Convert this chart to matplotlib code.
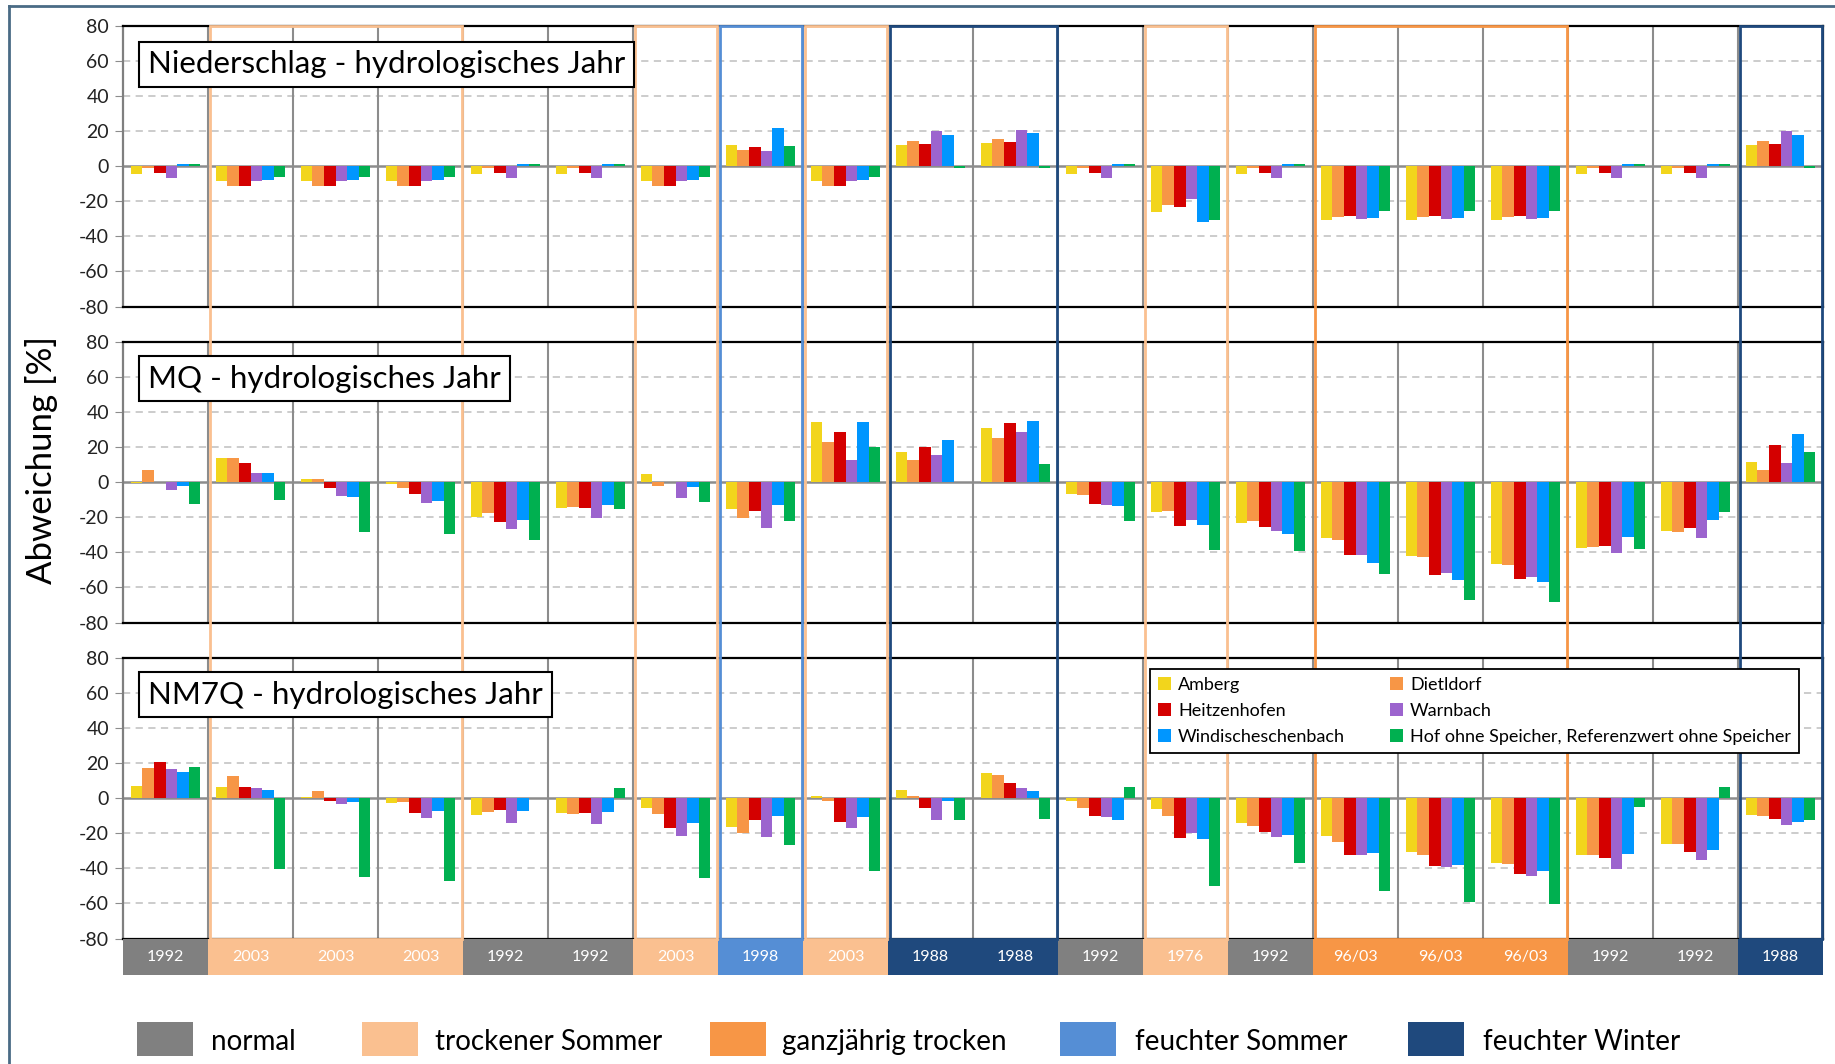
import numpy as np
import matplotlib
matplotlib.use("Agg")
import matplotlib.pyplot as plt
from matplotlib.patches import Rectangle
from matplotlib.lines import Line2D

plt.rcParams['font.family'] = ['Lato', 'DejaVu Sans']
plt.rcParams['axes.unicode_minus'] = False

# --- data ------------------------------------------------------------------
jahre = ['1992', '2003', '2003', '2003', '1992', '1992', '2003', '1998', '2003', '1988',
         '1988', '1992', '1976', '1992', '96/03', '96/03', '96/03', '1992', '1992', '1988']
kategorie = ['normal', 'trockener Sommer', 'trockener Sommer', 'trockener Sommer', 'normal',
             'normal', 'trockener Sommer', 'feuchter Sommer', 'trockener Sommer', 'feuchter Winter',
             'feuchter Winter', 'normal', 'trockener Sommer', 'normal', 'ganzjährig trocken',
             'ganzjährig trocken', 'ganzjährig trocken', 'normal', 'normal', 'feuchter Winter']

stationen = ['Amberg', 'Dietldorf', 'Heitzenhofen', 'Warnbach', 'Windischeschenbach',
             'Hof ohne Speicher, Referenzwert ohne Speicher']

# Niederschlag
amberg_n = [-4.5, -8.5, -8.5, -8.5, -4.5, -4.5, -8.5, 12, -8.5, 12.3, 13.4, -4.5, -26.3, -4.5, -30.5, -30.5, -30.5, -4.5, -4.5, 12.3]
dietl_n = [-1, -11.5, -11.5, -11.5, -1, -1, -11.5, 9, -11.5, 14.6, 15.5, -1, -22.3, -1, -29, -29, -29, -1, -1, 14.6]
heitz_n = [-4, -11.5, -11.5, -11.5, -4, -4, -11.5, 11, -11.5, 12.7, 13.6, -4, -23, -4, -28.4, -28.4, -28.4, -4, -4, 12.7]
warn_n = [-6.5, -8.5, -8.5, -8.5, -6.5, -6.5, -8.5, 8.5, -8.5, 20, 20.6, -6.5, -18.6, -6.5, -30.1, -30.1, -30.1, -6.5, -6.5, 20]
windi_n = [1.5, -8, -8, -8, 1.5, 1.5, -8, 21.5, -8, 18, 18.7, 1.5, -31.6, 1.5, -29.7, -29.7, -29.7, 1.5, 1.5, 18]
hof_n = [1, -6, -6, -6, 1, 1, -6, 11.5, -6, -1, -1, 1, -30.7, 1, -25.6, -25.6, -25.6, 1, 1, -1]

# MQ
amberg_m = [-0.5, 14, 1.7, -1, -19.6, -14.6, 4.4, -15.4, 34, 17.1, 30.8, -7, -16.9, -23, -31.6, -42, -46.6, -37.3, -28.1, 11.2]
dietl_m = [6.8, 14, 2, -3.4, -17.7, -13.9, -2, -20.5, 22.6, 12.5, 24.9, -7.4, -16.7, -22.4, -33.1, -42.8, -47.3, -37.1, -28.3, 7]
heitz_m = [0, 10.8, -3.2, -6.5, -22.8, -14.6, 0, -16.7, 28.7, 20.1, 33.5, -12.7, -24.7, -25.7, -41.4, -52.7, -55, -36.3, -26, 20.9]
warn_m = [-4.4, 5, -7.8, -11.6, -26.8, -20.2, -9.1, -26.2, 12.7, 15.2, 28.5, -12.9, -21.7, -27.9, -41.6, -51.7, -54, -40.5, -31.7, 11]
windi_m = [-2.3, 5, -8.6, -10.8, -21.5, -12.9, -2.7, -13.3, 34, 23.8, 35, -13.5, -24.5, -29.8, -46, -55.5, -57, -31.4, -21.5, 27.6]
hof_m = [-12.5, -10.3, -28.3, -29.7, -32.9, -15.4, -11.4, -21.9, 20.1, 0, 10.5, -21.9, -38.4, -39, -52.5, -67, -68.4, -38.2, -16.9, 17.3]

# NM7Q
amberg_q = [7, 6.6, 0.4, -2.6, -9.4, -8.3, -5.8, -16.4, 1.1, 4.5, 14.3, -1.9, -6.2, -14.3, -21.7, -30.9, -36.8, -32.5, -26, -9.8]
dietl_q = [17.2, 12.8, 4.3, -2.3, -7.7, -9, -8.9, -20, -1.9, 1, 13.2, -5.5, -10, -15.7, -24.7, -32.5, -37.7, -32.1, -26, -10.2]
heitz_q = [20.4, 6.6, -1.9, -8.3, -7, -8.7, -17.2, -12.3, -13.8, -5.8, 8.5, -10, -22.5, -19.4, -32.6, -38.7, -43.4, -34.2, -30.8, -12.1]
warn_q = [16.4, 6, -3.4, -11.5, -14, -14.9, -21.3, -22, -16.8, -12.6, 6, -10.8, -19.8, -21.9, -32.5, -39, -44.5, -40.2, -35.1, -15.1]
windi_q = [15.1, 4.7, -2, -7.2, -7.5, -7.9, -14.2, -10.2, -10.9, -1.7, 4.3, -12.5, -23.2, -20.8, -31.1, -38.1, -41.7, -31.7, -29.8, -13.4]
hof_q = [17.5, -40.4, -44.9, -47, 0.3, 5.5, -45.3, -26.8, -41.3, -12.6, -11.7, 6.6, -49.8, -36.8, -52.8, -58.9, -60.2, -5.3, 6.4, -12.5]

panels = [
    ('Niederschlag - hydrologisches Jahr', [amberg_n, dietl_n, heitz_n, warn_n, windi_n, hof_n]),
    ('MQ - hydrologisches Jahr', [amberg_m, dietl_m, heitz_m, warn_m, windi_m, hof_m]),
    ('NM7Q - hydrologisches Jahr', [amberg_q, dietl_q, heitz_q, warn_q, windi_q, hof_q]),
]

farben = ['#F2D51C', '#F79646', '#D40000', '#9C64CE', '#0096FF', '#00B050']
kat_farben = {'normal': '#808080', 'trockener Sommer': '#FAC090', 'ganzjährig trocken': '#F79646',
              'feuchter Sommer': '#558ED5', 'feuchter Winter': '#1F497D'}

# --- layout (pixels of the 1835x1064 figure) -------------------------------
W, H = 1835, 1064
fig = plt.figure(figsize=(W / 100, H / 100), dpi=100)

def fy(px):
    return 1 - px / H

x0 = 123 / W
aw = 1700 / W
ph = 280.9
tops = [25.7, 341.7, 657.7]
title_cy = [64.4, 378.6, 694.6]
n = len(jahre)
idx = np.arange(n)
bw = 0.137

axes = []
for p, (titel, reihen) in enumerate(panels):
    ax = fig.add_axes([x0, fy(tops[p] + ph), aw, ph / H])
    axes.append(ax)
    ax.set_xlim(-0.5, n - 0.5)
    ax.set_ylim(-80, 80)
    ax.set_yticks(range(-80, 81, 20))
    ax.set_xticks([])
    for v in [-60, -40, -20, 20, 40, 60]:
        ax.axhline(v, color='#c8c8c8', lw=1.3, ls=(0, (4, 3)), zorder=0)
    for b in np.arange(0.5, n - 0.5, 1):
        ax.axvline(b, color='#8c8c8c', lw=1.5, zorder=1)
    ax.axhline(0, color='#8c8c8c', lw=1.8, zorder=1)
    for k, werte in enumerate(reihen):
        ax.bar(idx + (k - 2.5) * bw, werte, bw, color=farben[k], zorder=2, label=stationen[k])
    for s in ['top', 'bottom', 'right']:
        ax.spines[s].set_color('black')
        ax.spines[s].set_linewidth(1.6)
    ax.spines['left'].set_color('#7f7f7f')
    ax.spines['left'].set_linewidth(1.6)
    ax.tick_params(axis='y', direction='out', length=6, color='#8c8c8c', labelsize=14, pad=4,
                   labelcolor='#222222')
    # title box as figure text so it covers the coloured frames
    fig.text(148 / W, fy(title_cy[p]), titel, fontsize=22.5, va='center', ha='left',
             bbox=dict(boxstyle='square,pad=0.28', fc='white', ec='black', lw=1.5), zorder=5)

# legend of stations (column order), on top of the coloured frames
h, l = axes[2].get_legend_handles_labels()
order = [0, 2, 4, 1, 3, 5]
leg = fig.legend([h[i] for i in order], [l[i] for i in order], ncol=2,
                 bbox_to_anchor=(1150 / W, fy(750), 649 / W, 81 / H), loc='upper left', mode='expand',
                 fontsize=13, handlelength=0.7, handleheight=0.7, handletextpad=0.4,
                 labelspacing=0.55, columnspacing=1.0, fancybox=False, framealpha=1,
                 edgecolor='black', borderpad=0.45, borderaxespad=0)
leg.get_frame().set_linewidth(1.3)
leg.set_zorder(6)

# category strip with years
axs = fig.add_axes([x0, fy(975), aw, (975 - 938.6) / H])
axs.bar(idx, 1, 1.0, color=[kat_farben[c] for c in kategorie], linewidth=0)
axs.set_xlim(-0.5, n - 0.5)
axs.set_ylim(0, 1)
axs.axis('off')
for i, j in enumerate(jahre):
    axs.text(i, 0.5, j, color='white', ha='center', va='center', fontsize=11.5)

# coloured boxes around blocks of non-normal years
gw = aw / n
ins = 1.5 / W
i = 0
while i < n:
    c = kategorie[i]
    j = i
    while j + 1 < n and kategorie[j + 1] == c:
        j += 1
    if c != 'normal':
        xl = x0 + i * gw + ins
        xr = x0 + (j + 1) * gw - ins
        yb = fy(938.6)
        yt = fy(tops[0])
        fig.add_artist(Rectangle((xl, yb), xr - xl, yt - yb, transform=fig.transFigure,
                                 fill=False, ec=kat_farben[c], lw=2.0, zorder=3))
    i = j + 1

# y label
fig.text(41 / W, fy(460), 'Abweichung [%]', rotation=90, va='center', ha='center', fontsize=25)

# category legend at the bottom
kat_namen = ['normal', 'trockener Sommer', 'ganzjährig trocken', 'feuchter Sommer', 'feuchter Winter']
sq_x = [137, 361.6, 710.4, 1060.3, 1407.9]
tx_x = [210.7, 435.4, 781.8, 1135.2, 1482.8]
for name, sx, tx in zip(kat_namen, sq_x, tx_x):
    fig.add_artist(Rectangle((sx / W, fy(1056)), 56 / W, 34 / H, transform=fig.transFigure,
                             fc=kat_farben[name], ec='none'))
    fig.text(tx / W, fy(1042), name, va='center', ha='left', fontsize=20)

# outer frame of the slide
fig.add_artist(Line2D([9 / W, 1], [fy(6), fy(6)], transform=fig.transFigure, color='#4a6b85', lw=2))
fig.add_artist(Line2D([9 / W, 9 / W], [0, fy(6)], transform=fig.transFigure, color='#4a6b85', lw=2))

fig.savefig('out.png', dpi=100)
